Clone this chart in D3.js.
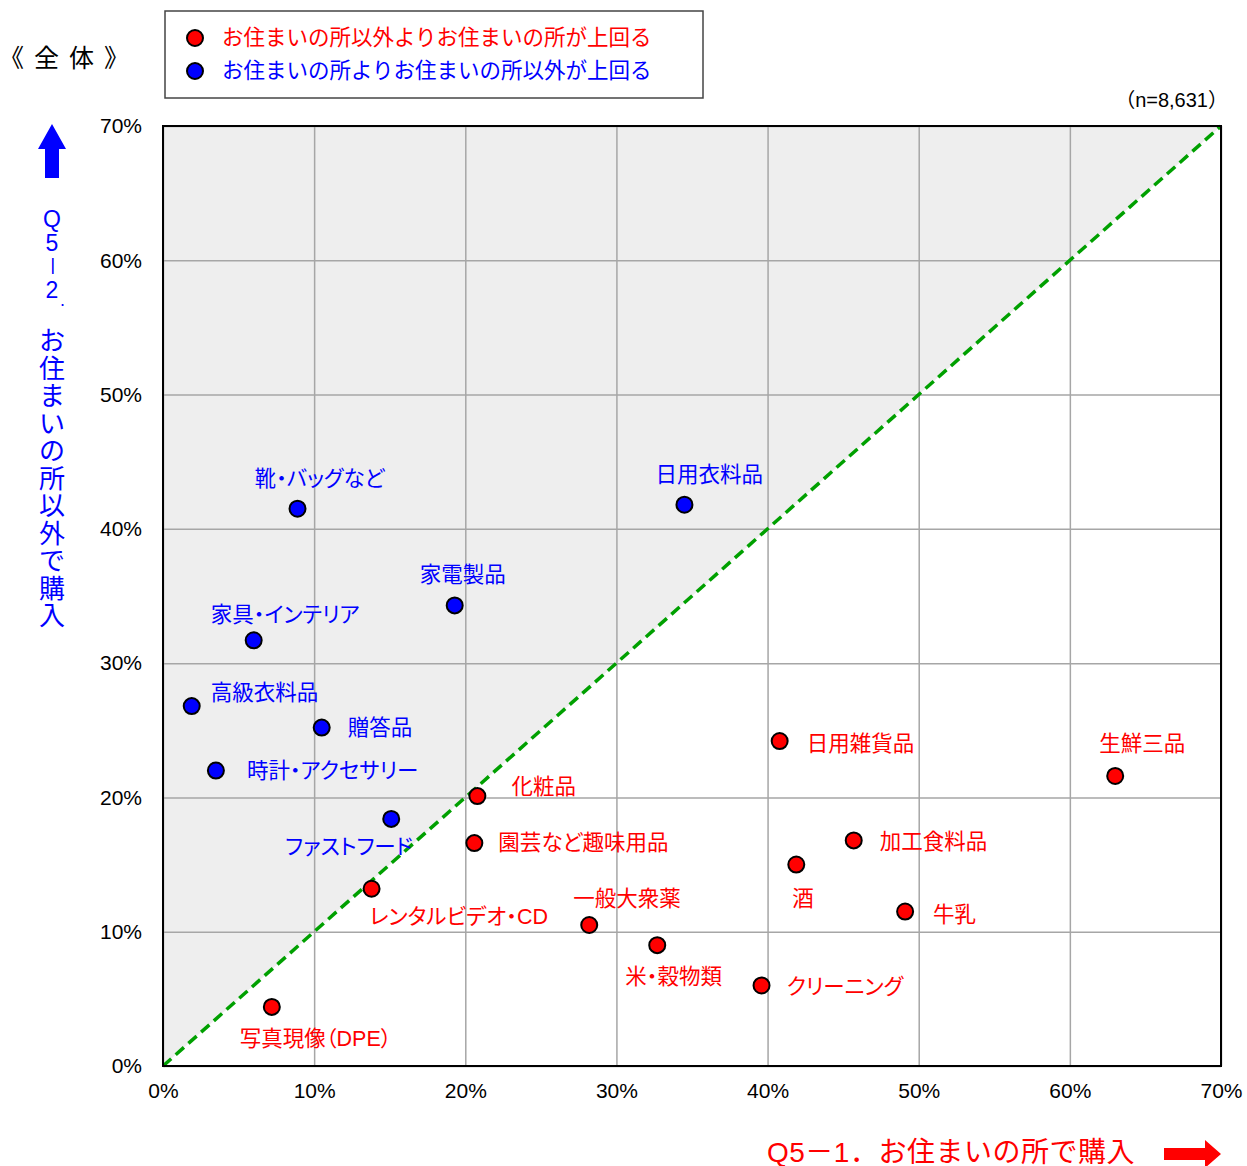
<!DOCTYPE html>
<html>
<head>
<meta charset="utf-8">
<script src="https://cdn.jsdelivr.net/npm/d3@7"></script>
<style>
  body { margin: 0; background: #fff; }
  svg text { font-family: 'Liberation Sans', 'Noto Sans CJK JP', sans-serif; }
  .lbl { font-feature-settings: 'palt' 1; }
</style>
</head>
<body>
<svg id="mainSvg"></svg>
<script>
// data
const names = ['靴・バッグなど', '日用衣料品', '家電製品', '家具・インテリア', '高級衣料品', '贈答品', '時計・アクセサリー', 'ファストフード',
  '化粧品', '園芸など趣味用品', 'レンタルビデオ・CD', '一般大衆薬', '米・穀物類', 'クリーニング', '写真現像（DPE）',
  '日用雑貨品', '生鮮三品', '加工食料品', '酒', '牛乳'];
const homeValues = [8.9, 34.5, 19.3, 6.0, 1.9, 10.5, 3.5, 15.1, 20.8, 20.6, 13.8, 28.2, 32.7, 39.6, 7.2, 40.8, 63.0, 45.7, 41.9, 49.1];
const otherValues = [41.5, 41.8, 34.3, 31.7, 26.8, 25.2, 22.0, 18.4, 20.1, 16.6, 13.2, 10.5, 9.0, 6.0, 4.4, 24.2, 21.6, 16.8, 15.0, 11.5];
const groups = ['other', 'other', 'other', 'other', 'other', 'other', 'other', 'other',
  'home', 'home', 'home', 'home', 'home', 'home', 'home', 'home', 'home', 'home', 'home', 'home'];
const tickValues = [0, 10, 20, 30, 40, 50, 60, 70];
const legendTexts = ['お住まいの所以外よりお住まいの所が上回る', 'お住まいの所よりお住まいの所以外が上回る'];

// label placement (offset of label from its dot)
const labelOffsets = [[-43, -30], [-29, -30], [-35, -30], [-43, -25], [19, -13], [26, 0], [31, 0], [-106, 28],
  [34, -9], [24, 0], [-2, 28], [-16, -26], [-32, 32], [25, 2], [-32, 32],
  [27, 3], [-16, -32], [26, 2], [-4, 34], [28, 3]];

const colors = {home: '#ff0000', other: '#0000ff'};
const [w, h] = [1247, 1166];
const [pLeft, pRight, pTop, pBottom] = [163, 1221, 126, 1066];

const svg = d3.select('#mainSvg').attr('width', w).attr('height', h);

const xScale = d3.scaleLinear().domain([0, 70]).range([pLeft, pRight]);
const yScale = d3.scaleLinear().domain([0, 70]).range([pBottom, pTop]);

// grey triangle above the diagonal
svg.append('path')
  .attr('d', d3.line()([[xScale(0), yScale(0)], [xScale(0), yScale(70)], [xScale(70), yScale(70)]]) + 'Z')
  .attr('fill', '#eeeeee');

// grid
const xAxis = d3.axisBottom(xScale).tickValues(tickValues).tickSize(-(pBottom - pTop)).tickFormat(d => d + '%').tickPadding(21);
const yAxis = d3.axisLeft(yScale).tickValues(tickValues).tickSize(-(pRight - pLeft)).tickFormat(d => d + '%').tickPadding(21);

const gx = svg.append('g').attr('transform', `translate(0, ${pBottom})`).call(xAxis);
const gy = svg.append('g').attr('transform', `translate(${pLeft}, 0)`).call(yAxis);
[gx, gy].forEach(g => {
  g.select('.domain').remove();
  g.selectAll('.tick line').attr('stroke', '#a6a6a6').attr('stroke-width', 1.5);
  g.selectAll('.tick text').attr('fill', '#000').style('font-size', '21px');
});
gx.selectAll('.tick text').attr('dy', '0.5em');

// diagonal
svg.append('line')
  .attr('x1', xScale(0)).attr('y1', yScale(0))
  .attr('x2', xScale(70)).attr('y2', yScale(70))
  .attr('stroke', '#00a000').attr('stroke-width', 3.5).attr('stroke-dasharray', '11,6');

// border
svg.append('rect')
  .attr('x', pLeft).attr('y', pTop).attr('width', pRight - pLeft).attr('height', pBottom - pTop)
  .attr('fill', 'none').attr('stroke', '#000').attr('stroke-width', 2);

// dots
const pts = names.map((n, i) => ({name: n, x: homeValues[i], y: otherValues[i], g: groups[i], off: labelOffsets[i]}));

svg.selectAll('circle.dot').data(pts).enter().append('circle')
  .attr('class', 'dot')
  .attr('cx', d => xScale(d.x)).attr('cy', d => yScale(d.y)).attr('r', 8)
  .attr('fill', d => colors[d.g]).attr('stroke', '#000').attr('stroke-width', 2);

svg.selectAll('text.lbl').data(pts).enter().append('text')
  .attr('class', 'lbl')
  .attr('x', d => xScale(d.x) + d.off[0]).attr('y', d => yScale(d.y) + d.off[1])
  .attr('dominant-baseline', 'central')
  .attr('fill', d => colors[d.g])
  .style('font-size', '21.5px')
  .text(d => d.name);

// legend
svg.append('rect').attr('x', 165).attr('y', 11).attr('width', 538).attr('height', 87)
  .attr('fill', '#fff').attr('stroke', '#444').attr('stroke-width', 1.5);
['home', 'other'].forEach((g, i) => {
  svg.append('circle').attr('cx', 195).attr('cy', 38 + i * 33).attr('r', 8)
    .attr('fill', colors[g]).attr('stroke', '#000').attr('stroke-width', 2);
  svg.append('text').attr('x', 222).attr('y', 38 + i * 33).attr('dominant-baseline', 'central')
    .attr('fill', colors[g]).style('font-size', '21.5px').text(legendTexts[i]);
});

// title
svg.append('text').attr('x', -1).attr('y', 58).attr('dominant-baseline', 'central')
  .style('font-size', '25px').style('letter-spacing', '10px').attr('fill', '#000').text('《全体》');

// n
svg.append('text').attr('x', 1228).attr('y', 100).attr('text-anchor', 'end').attr('dominant-baseline', 'central')
  .style('font-size', '20px').attr('fill', '#000').text('（n=8,631）');

// y axis title, vertical
const yTitle = [['Q', 219], ['5', 243], ['－', 266], ['2', 290]];
'お住まいの所以外で購入'.split('').forEach((c, i) => yTitle.push([c, 341 + i * 27.5]));
yTitle.forEach(([c, y]) => {
  const t = svg.append('text').attr('x', 52).attr('y', y)
    .attr('text-anchor', 'middle').attr('dominant-baseline', 'central')
    .attr('fill', '#0000ff').style('font-size', /[Q52]/.test(c) ? '23px' : '26px').text(c);
  if (c === '－') t.attr('transform', `rotate(90, 52, ${y})`).style('font-size', '22px');
});
svg.append('text').attr('x', 60).attr('y', 306).attr('fill', '#0000ff')
  .style('font-size', '18px').text('.');
svg.append('path')
  .attr('d', 'M45,178 L45,149 L38,149 L52,124 L66,149 L59,149 L59,178 Z')
  .attr('fill', '#0000ff');

// x axis title
svg.append('text').attr('x', 767).attr('y', 1152).attr('dominant-baseline', 'central')
  .attr('fill', '#ff0000').style('font-size', '28px').style('letter-spacing', '0.5px').text('Q5－1．お住まいの所で購入');
svg.append('path')
  .attr('d', 'M1164,1148 L1205,1148 L1205,1140 L1221,1154 L1205,1168 L1205,1160 L1164,1160 Z')
  .attr('fill', '#ff0000');
</script>
</body>
</html>
